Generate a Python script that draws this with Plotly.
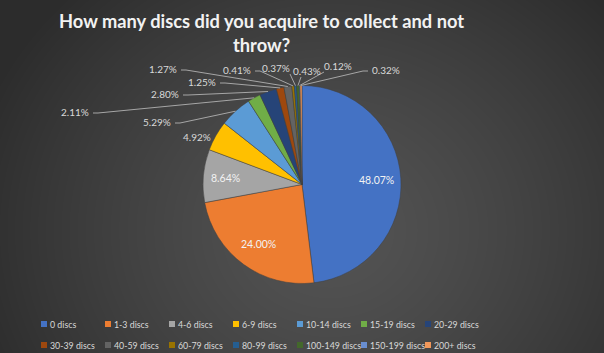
import math, zlib, struct, base64
import numpy as np
import plotly.graph_objects as go

# ---------------- data ----------------
categories = ["0 discs", "1-3 discs", "4-6 discs", "6-9 discs", "10-14 discs",
              "15-19 discs", "20-29 discs", "30-39 discs", "40-59 discs",
              "60-79 discs", "80-99 discs", "100-149 discs", "150-199 discs",
              "200+ discs"]
percent = [48.07, 24.00, 8.64, 4.92, 5.29, 2.11, 2.80, 1.25, 1.27,
           0.41, 0.37, 0.43, 0.12, 0.32]
colors = ["#4472C4", "#ED7D31", "#A5A5A5", "#FFC000", "#5B9BD5", "#70AD47",
          "#264478", "#9E480E", "#636363", "#997300", "#255E91", "#43682B",
          "#698ED0", "#F1975A"]
title_text = "How many discs did you acquire to collect and not<br>throw?"

# ---------------- layout geometry (styling) ----------------
W, H = 604, 353
CX, CY, R = 302, 184.5, 99
# label placement per slice: inside at radial fraction, or outside anchored at pixel point
# outside: (anchor, x, y, leader style: None / 'side' / 'below')
label_place = [
    ("in", 0.75), ("in", 0.75), ("in", 0.78),
    ("right", 213, 137, None), ("right", 173, 122, "side"), ("right", 91, 112, "side"),
    ("right", 181, 94, "side"), ("right", 218, 82, "side"), ("right", 179, 69, "side"),
    ("right", 253, 70, "side"), ("right", 292, 68, "below"), ("center", 307, 71, "below"),
    ("left", 322, 66, "below"), ("left", 370, 70, "side"),
]
LEG_X0, LEG_STEP, LEG_ROWS_Y, LEG_PER_ROW = 41, 64, (324, 345), 7
TITLE_CX = 261

# ---------------- background gradient image ----------------
yy, xx = np.mgrid[0:H, 0:W]
d = np.sqrt(((xx - 330) / (W * 0.62)) ** 2 + ((yy - 230) / (H * 0.95)) ** 2)
d = np.clip(d, 0, 1)
val = (0x54 - (0x54 - 0x2c) * d ** 1.3).astype(np.uint8)
rgb = np.stack([val, val, val], axis=-1)
raw = b"".join(b"\x00" + rgb[i].tobytes() for i in range(H))
def chunk(t, data):
    c = struct.pack(">I", len(data)) + t + data
    return c + struct.pack(">I", zlib.crc32(t + data) & 0xffffffff)
png = b"\x89PNG\r\n\x1a\n" + chunk(b"IHDR", struct.pack(">IIBBBBB", W, H, 8, 2, 0, 0, 0)) \
    + chunk(b"IDAT", zlib.compress(raw, 9)) + chunk(b"IEND", b"")
bg_uri = "data:image/png;base64," + base64.b64encode(png).decode()

FONT = "Lato"
TXT = "#d9d9d9"

fig = go.Figure()
fig.add_trace(go.Pie(
    labels=categories, values=percent, sort=False, direction="clockwise",
    rotation=0, marker=dict(colors=colors, line=dict(color="#404040", width=0.5)),
    textinfo="none", hoverinfo="label+percent", showlegend=False,
    domain=dict(x=[(CX - R) / W, (CX + R) / W], y=[(H - CY - R) / H, (H - CY + R) / H]),
))

def px2paper(x, y):
    return x / W, 1 - y / H

annotations = []
shapes = []
total = sum(percent)
cum = 0.0
for i, v in enumerate(percent):
    mid = (cum + v / 2) / total * 2 * math.pi
    cum += v
    s, c = math.sin(mid), math.cos(mid)
    txt = f"{v:.2f}%"
    p = label_place[i]
    if p[0] == "in":
        x, y = CX + p[1] * R * s, CY - p[1] * R * c
        px, py = px2paper(x, y)
        annotations.append(dict(x=px, y=py, xref="paper", yref="paper", text=txt,
                                xanchor="center", yanchor="middle", showarrow=False,
                                font=dict(family=FONT, size=10.5, color="#f2f2f2")))
        continue
    mode, lx, ly, style = p
    ex, ey = CX + R * s, CY - R * c
    px, py = px2paper(lx, ly)
    annotations.append(dict(x=px, y=py, xref="paper", yref="paper", text=txt, xanchor=mode,
                            yanchor="middle", showarrow=False,
                            font=dict(family=FONT, size=10, color=TXT)))
    if style == "side":
        if mode == "right":
            sx, sy, kx = lx + 2, ly + 1, lx + 7
        else:
            sx, sy, kx = lx - 2, ly + 1, lx - 7
        pts = [(sx, sy), (kx, sy), (ex, ey)]
    elif style == "below":
        bx = {"right": lx - 2, "center": lx - 6, "left": lx + 2}[mode]
        pts = [(bx, ly + 6), (ex, ey)]
    else:
        pts = None
    if pts:
        pp = [px2paper(*q) for q in pts]
        path = "M" + " L".join(f"{q[0]},{q[1]}" for q in pp)
        shapes.append(dict(type="path", xref="paper", yref="paper", path=path,
                           line=dict(color="#a6a6a6", width=1)))

# title
annotations.append(dict(x=TITLE_CX / W, y=1 - 8 / H, xref="paper", yref="paper", text=title_text,
                        xanchor="center", yanchor="top", showarrow=False, align="center",
                        font=dict(family=FONT, size=18.3, color="#f2f2f2", weight="bold")))

# legend (hand-built for Excel-like compact spacing)
for i, (name, col) in enumerate(zip(categories, colors)):
    gx = LEG_X0 + (i % LEG_PER_ROW) * LEG_STEP
    gy = LEG_ROWS_Y[i // LEG_PER_ROW]
    a = px2paper(gx, gy - 3); b = px2paper(gx + 6, gy + 3)
    shapes.append(dict(type="rect", xref="paper", yref="paper", x0=a[0], x1=b[0], y0=b[1], y1=a[1],
                       fillcolor=col, line=dict(width=0)))
    t = px2paper(gx + 7, gy)
    annotations.append(dict(x=t[0], y=t[1], xref="paper", yref="paper", text=name,
                            xanchor="left", yanchor="middle", showarrow=False,
                            font=dict(family=FONT, size=8.8, color=TXT)))

fig.update_layout(
    width=W, height=H,
    margin=dict(l=0, r=0, t=0, b=0),
    paper_bgcolor="#404040", plot_bgcolor="rgba(0,0,0,0)",
    images=[dict(source=bg_uri, xref="paper", yref="paper", x=0, y=1, sizex=1, sizey=1,
                 xanchor="left", yanchor="top", sizing="stretch", layer="below")],
    annotations=annotations, shapes=shapes,
    showlegend=False,
)

fig.write_html("out.html")
